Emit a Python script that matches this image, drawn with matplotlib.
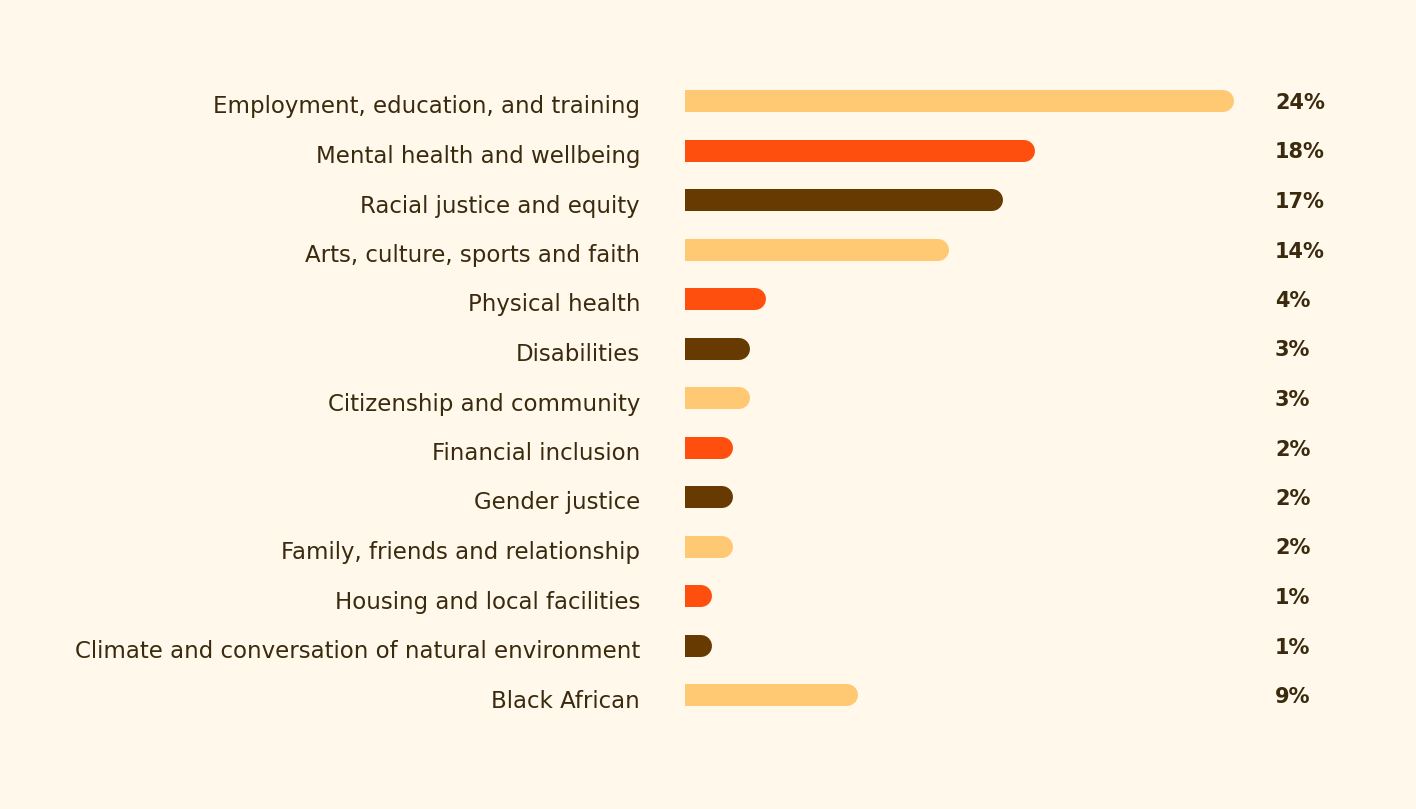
import matplotlib
matplotlib.use("Agg")
import matplotlib.pyplot as plt
import matplotlib.transforms as mtransforms

plt.rcParams['font.family'] = ['DejaVu Sans']

categories = [
    "Employment, education, and training",
    "Mental health and wellbeing",
    "Racial justice and equity",
    "Arts, culture, sports and faith",
    "Physical health",
    "Disabilities",
    "Citizenship and community",
    "Financial inclusion",
    "Gender justice",
    "Family, friends and relationship",
    "Housing and local facilities",
    "Climate and conversation of natural environment",
    "Black African",
]
# printed shares
shares = [24, 18, 17, 14, 4, 3, 3, 2, 2, 2, 1, 1, 9]
# bar lengths as drawn in the reference (not strictly proportional to labels)
bar_scores = [24.0, 15.3, 13.9, 11.55, 3.55, 2.85, 2.85, 2.1, 2.1, 2.1, 1.2, 1.2, 7.55]

palette = ["#FFC872", "#FF4F0F", "#663A00"]
bg = "#FFF8EB"
text_col = "#3A2A0E"

fig = plt.figure(figsize=(14.16, 8.09), dpi=100, facecolor=bg)
ax = fig.add_axes([685 / 1416, 1 - 719.75 / 809, 549 / 1416, 643.5 / 809])
ax.set_facecolor(bg)
ax.set_xlim(0, 24)
ax.set_ylim(len(categories) - 0.5, -0.5)

px_per_unit = 549 / 24
radius = 11 / px_per_unit
bar_lw = 22 * 72 / 100

label_shift = mtransforms.offset_copy(ax.transData, fig=fig, x=0, y=-6, units='dots')
pct_shift = mtransforms.offset_copy(ax.transData, fig=fig, x=0, y=-2, units='dots')

for i, (cat, val, length) in enumerate(zip(categories, shares, bar_scores)):
    color = palette[i % 3]
    # round-capped line; left cap is clipped at x=0 so the left end stays square
    ax.plot([0, length - radius], [i, i], color=color, lw=bar_lw,
            solid_capstyle='round', clip_on=True)
    ax.text(-45 / px_per_unit, i, cat, transform=label_shift, ha='right', va='center',
            fontsize=16.5, color=text_col, clip_on=False)
    ax.text(590 / px_per_unit, i, f"{val}%", transform=pct_shift, ha='left', va='center',
            fontsize=15, fontweight='semibold', color=text_col, clip_on=False)

ax.axis('off')
fig.savefig("out.png", dpi=100, facecolor=bg)
